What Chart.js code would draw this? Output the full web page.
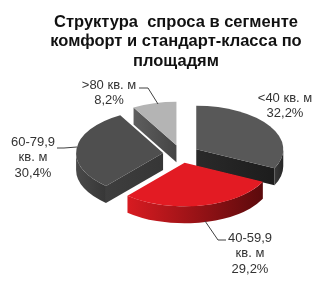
<!DOCTYPE html>
<html><head><meta charset="utf-8">
<script src="https://cdn.jsdelivr.net/npm/chart.js@4/dist/chart.umd.min.js"></script>
<style>html,body{margin:0;padding:0;background:#fff}#wrap{width:332px;height:290px;position:relative}</style>
</head><body><div id="wrap"><canvas id="c" width="332" height="290"></canvas></div>
<script>
// ---- data ----
const categories = ['<40 кв. м', '40-59,9 кв. м', '60-79,9 кв. м', '>80 кв. м'];
const shares = [32.2, 29.2, 30.4, 8.2];
const labelNameLines = [['<40 кв. м'], ['40-59,9', 'кв. м'], ['60-79,9', 'кв. м'], ['>80 кв. м']];
const titleLines = ['Структура  спроса в сегменте', 'комфорт и стандарт-класса по', 'площадям'];

// ---- style ----
const topColors = ['#585858', '#e31b23', '#4f4f4f', '#b4b4b4'];
const wallColors = [['#3a3a3a', '#232323'], ['#d81b21', '#5a0a0c'], ['#4a4a4a', '#363636'], ['#6a6a6a', '#4a4a4a']];
const cutColors = [['#2a2a2a', '#1c1c1c'], ['#9a1216', '#7a0e12'], ['#3e3e3e', '#363636'], ['#5e5e5e', '#444444']];
const K = 0.5, DEPTH = 17, EXPLODE = 18;
const labelPos = [{x: 285, y: 98}, {x: 250, y: 238}, {x: 33, y: 142}, {x: 109, y: 85}];
const LINE_H = 15.5;
const leaders = [null, [[226, 240], [218, 240], [205, 221]], [[57, 148], [64, 148], [77, 147]], [[139, 88], [148, 88], [158, 104]]];

const fmt = v => v.toFixed(1).replace('.', ',') + '%';

function geom(el) {
  const p = el.getProps(['x', 'y', 'startAngle', 'endAngle', 'outerRadius'], true);
  const mid = (p.startAngle + p.endAngle) / 2;
  return Object.assign({}, p, {
    mid,
    vx: p.x + Math.cos(mid) * EXPLODE,
    vy: p.y + Math.sin(mid) * EXPLODE * K
  });
}

function hGrad(ctx, x0, x1, c) {
  const g = ctx.createLinearGradient(x0, 0, x1, 0);
  g.addColorStop(0, c[0]); g.addColorStop(1, c[1]);
  return g;
}

function drawCut(ctx, g, a, colors) {
  const R = g.outerRadius;
  const px = g.vx + R * Math.cos(a), py = g.vy + K * R * Math.sin(a);
  ctx.beginPath();
  ctx.moveTo(g.vx, g.vy);
  ctx.lineTo(px, py);
  ctx.lineTo(px, py + DEPTH);
  ctx.lineTo(g.vx, g.vy + DEPTH);
  ctx.closePath();
  ctx.fillStyle = hGrad(ctx, Math.min(g.vx, px), Math.max(g.vx, px) + 1, colors);
  ctx.fill();
}

function drawSides(ctx, g, i) {
  const R = g.outerRadius;
  if (Math.cos(g.startAngle) < -1e-6) drawCut(ctx, g, g.startAngle, cutColors[i]);
  if (Math.cos(g.endAngle) > 1e-6) drawCut(ctx, g, g.endAngle, cutColors[i]);
  for (let n = -2; n <= 2; n++) {
    const s = Math.max(g.startAngle, 2 * Math.PI * n), e = Math.min(g.endAngle, 2 * Math.PI * n + Math.PI);
    if (e > s) {
      ctx.beginPath();
      ctx.ellipse(g.vx, g.vy, R, K * R, 0, s, e);
      ctx.ellipse(g.vx, g.vy + DEPTH, R, K * R, 0, e, s, true);
      ctx.closePath();
      const xs = g.vx + R * Math.cos(s), xe = g.vx + R * Math.cos(e);
      ctx.fillStyle = hGrad(ctx, Math.min(xs, xe), Math.max(xs, xe) + 1, wallColors[i]);
      ctx.fill();
    }
  }
}

const pie3d = {
  id: 'pie3d',
  beforeDatasetDraw(chart, args) {
    const ctx = chart.ctx;
    const els = args.meta.data;
    const gs = els.map(geom);
    const order = gs.map((g, i) => i).sort((a, b) => gs[a].vy - gs[b].vy);
    ctx.save();
    order.forEach(i => drawSides(ctx, gs[i], i));
    order.forEach(i => {
      const g = gs[i];
      ctx.save();
      ctx.translate(g.vx, g.vy);
      ctx.scale(1, K);
      ctx.translate(-g.x, -g.y);
      els[i].draw(ctx);
      ctx.restore();
    });
    ctx.restore();
    return false;
  },
  afterDraw(chart) {
    const ctx = chart.ctx;
    ctx.save();
    ctx.fillStyle = '#111';
    ctx.textAlign = 'center';
    ctx.textBaseline = 'middle';
    ctx.font = 'bold 16.5px "Liberation Sans", Arial, sans-serif';
    titleLines.forEach((t, j) => ctx.fillText(t, 176, 22 + j * 19.5));
    ctx.fillStyle = '#333';
    ctx.font = '13px "Liberation Sans", Arial, sans-serif';
    categories.forEach((c, i) => {
      const lines = labelNameLines[i].concat([fmt(shares[i])]);
      lines.forEach((t, j) => ctx.fillText(t, labelPos[i].x, labelPos[i].y + j * LINE_H));
    });
    ctx.strokeStyle = '#404040';
    ctx.lineWidth = 1;
    leaders.forEach(l => {
      if (!l) return;
      ctx.beginPath();
      ctx.moveTo(l[0][0], l[0][1]);
      for (let j = 1; j < l.length; j++) ctx.lineTo(l[j][0], l[j][1]);
      ctx.stroke();
    });
    ctx.restore();
  }
};

new Chart(document.getElementById('c'), {
  type: 'pie',
  data: {
    labels: categories,
    datasets: [{
      data: shares,
      backgroundColor: topColors,
      borderWidth: 0,
      offset: 0,
      clip: false
    }]
  },
  options: {
    responsive: false,
    animation: false,
    events: [],
    radius: 87,
    layout: {padding: {left: 30, right: 0, top: 18, bottom: 0}},
    plugins: {legend: {display: false}, tooltip: {enabled: false}, title: {display: false}}
  },
  plugins: [pie3d]
});
</script>
</body></html>
